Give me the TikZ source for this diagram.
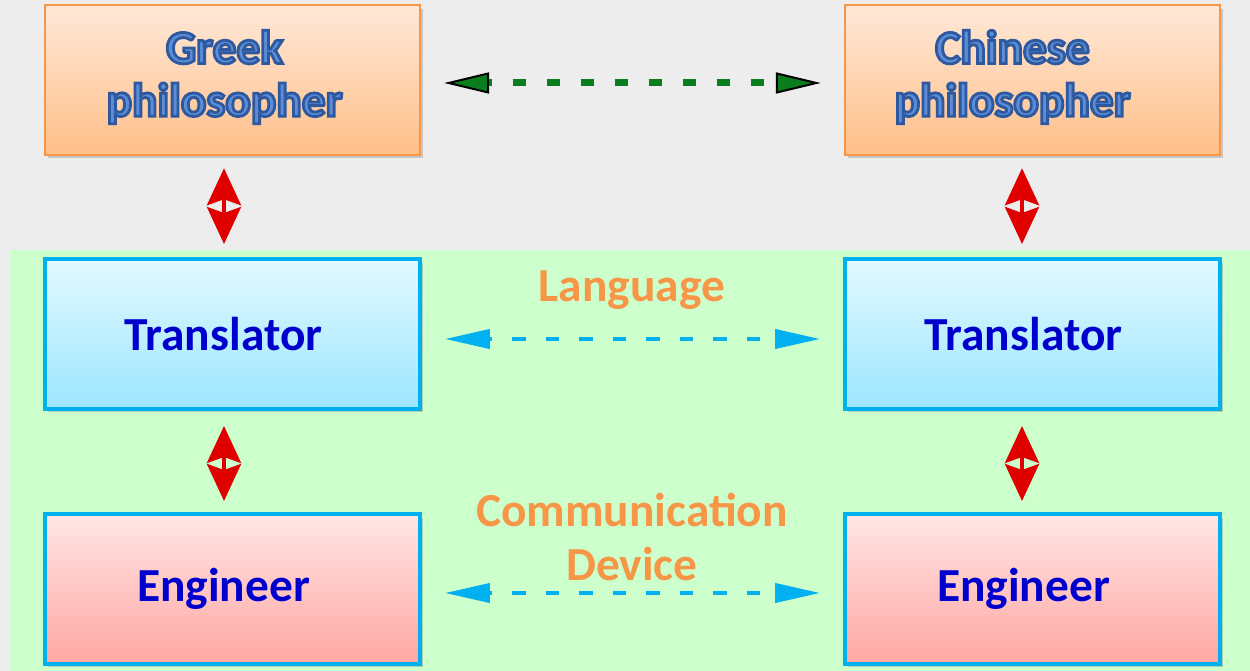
\documentclass[tikz,border=0pt]{standalone}
\usepackage{fontspec}
\setmainfont{Carlito}
\usetikzlibrary{arrows.meta,shadows,shadings}
\definecolor{paper}{HTML}{EDEDED}
\definecolor{lawn}{HTML}{CCFFCC}
\definecolor{peachtop}{HTML}{FFE8D8}
\definecolor{peachbot}{HTML}{FFBF88}
\definecolor{peachline}{HTML}{F79646}
\definecolor{skytop}{HTML}{E2F9FF}
\definecolor{skybot}{HTML}{9CE6FF}
\definecolor{skyline}{HTML}{00B0F0}
\definecolor{rosetop}{HTML}{FFE6E6}
\definecolor{rosebot}{HTML}{FFA6A2}
\definecolor{inkblue}{HTML}{0000CC}
\definecolor{philolight}{HTML}{5B8DD8}
\definecolor{talkorange}{HTML}{F79646}
\definecolor{linkgreen}{HTML}{0A7D1E}
\definecolor{linkred}{HTML}{E00000}
% outlined lettering: fill with the text colour, stroke in a darker blue
\newcommand{\embossed}[1]{\special{pdf:literal direct 2 Tr 1.6 w 0.18 0.35 0.62 RG}#1\special{pdf:literal direct 0 Tr}}
\tikzset{
  box/.style={rectangle, minimum width=7.5cm, minimum height=3cm, inner sep=0pt,
    drop shadow={opacity=0.35, shadow xshift=0.06cm, shadow yshift=-0.07cm}},
  philobox/.style={box, draw=peachline, line width=0.05cm, top color=peachtop, bottom color=peachbot},
  transbox/.style={box, draw=skyline, line width=0.08cm, top color=skytop, bottom color=skybot},
  engbox/.style={box, draw=skyline, line width=0.08cm, top color=rosetop, bottom color=rosebot},
  roletext/.style={font=\bfseries\fontsize{27}{30}\selectfont, text=inkblue},
  philotext/.style={font=\bfseries\fontsize{27}{30}\selectfont, align=center, text=philolight},
  talktext/.style={font=\bfseries\fontsize{27}{31}\selectfont, text=talkorange, align=center},
  greenlink/.style={draw=linkgreen, line width=0.14cm, dash pattern=on 0.26cm off 0.42cm, dash phase=0.2cm,
    {Triangle[length=0.9cm, width=0.42cm, fill=linkgreen, color=black, line width=0.04cm]}-{Triangle[length=0.9cm, width=0.42cm, fill=linkgreen, color=black, line width=0.04cm]}},
  bluelink/.style={draw=skyline, line width=0.08cm, dash pattern=on 0.27cm off 0.4cm, dash phase=0.2cm,
    {Triangle[length=0.9cm, width=0.38cm]}-{Triangle[length=0.9cm, width=0.38cm]}},
  redlink/.style={draw=linkred, line width=0.08cm,
    {Stealth[length=0.74cm, width=0.68cm, inset=0.12cm]}-{Stealth[length=0.74cm, width=0.68cm, inset=0.12cm]}}
}
\begin{document}
\begin{tikzpicture}[x=0.02cm, y=-0.02cm]
  % paper and green panel
  \fill[paper] (0,0) rectangle (1250,671);
  \fill[lawn] (10,250) rectangle (1250,671);
  \useasboundingbox (0,0) rectangle (1250,671);

  % boxes
  \node[philobox] (greek)   at (232.5,80)  {};
  \node[philobox] (chinese) at (1032.5,80) {};
  \node[transbox] (transL)  at (232.5,334) {};
  \node[transbox] (transR)  at (1032.5,334) {};
  \node[engbox]   (engL)    at (232.5,589) {};
  \node[engbox]   (engR)    at (1032.5,589) {};

  % outlined philosopher labels
  \node[philotext] (greektxt) at ([shift={(-0.16cm,0.06cm)}]greek.center)
    {\embossed{Greek}\\\embossed{philosopher}};
  \node[philotext] (chinatxt) at ([shift={(-0.4cm,0.06cm)}]chinese.center)
    {\embossed{Chinese}\\\embossed{philosopher}};

  % role labels
  \node[roletext] (transLt) at ([xshift=-0.18cm]transL.center) {Translator};
  \node[roletext] (transRt) at ([xshift=-0.18cm]transR.center) {Translator};
  \node[roletext] (engLt)   at ([xshift=-0.18cm]engL.center) {Engineer};
  \node[roletext] (engRt)   at ([xshift=-0.18cm]engR.center) {Engineer};

  % middle labels
  \node[talktext] (lang) at (632,290) {Language};
  \node[talktext] (comm) at (632,537) {Communication\\Device};

  % horizontal links
  \draw[greenlink, shorten <=0.46cm, shorten >=0.46cm]
    ([yshift=-0.06cm]greek.east) -- ([yshift=-0.06cm]chinese.west);
  \draw[bluelink, shorten <=0.46cm, shorten >=0.46cm]
    ([yshift=-0.1cm]transL.east) -- ([yshift=-0.1cm]transR.west);
  \draw[bluelink, shorten <=0.46cm, shorten >=0.46cm]
    ([yshift=-0.08cm]engL.east) -- ([yshift=-0.08cm]engR.west);

  % vertical links
  \draw[redlink, shorten <=0.24cm, shorten >=0.26cm]
    ([xshift=-0.17cm]greek.south) -- ([xshift=-0.17cm]transL.north);
  \draw[redlink, shorten <=0.24cm, shorten >=0.26cm]
    ([xshift=-0.21cm]chinese.south) -- ([xshift=-0.21cm]transR.north);
  \draw[redlink, shorten <=0.3cm, shorten >=0.22cm]
    ([xshift=-0.17cm]transL.south) -- ([xshift=-0.17cm]engL.north);
  \draw[redlink, shorten <=0.3cm, shorten >=0.22cm]
    ([xshift=-0.21cm]transR.south) -- ([xshift=-0.21cm]engR.north);
\end{tikzpicture}
\end{document}
